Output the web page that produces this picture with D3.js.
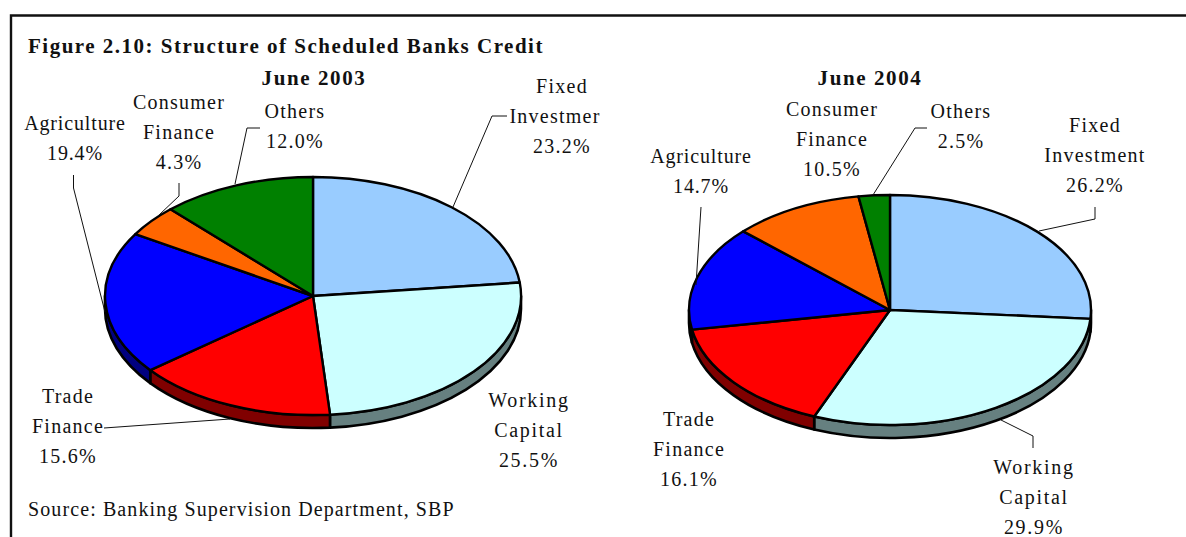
<!DOCTYPE html>
<html>
<head>
<meta charset="utf-8">
<script src="https://cdn.jsdelivr.net/npm/d3@7/dist/d3.min.js"></script>
<style>
html, body { margin: 0; padding: 0; background: #fff; }
svg { display: block; }
text { font-family: "Liberation Serif", serif; fill: #111; }
</style>
</head>
<body>
<svg id="chart" width="1186" height="537"></svg>
<script>
// Credit shares by sector, clockwise from twelve o'clock
const sectors = ["Fixed Investment", "Working Capital", "Trade Finance", "Agriculture", "Consumer Finance", "Others"];
const shares2003 = [23.2, 25.5, 15.6, 19.4, 4.3, 12.0];
const shares2004 = [26.2, 29.9, 16.1, 14.7, 10.5, 2.5];
const faceColors = ["#99ccff", "#ccffff", "#ff0000", "#0000ff", "#ff6600", "#008000"];
const rimColors = ["#4d6680", "#668080", "#800000", "#000080", "#803300", "#004000"];

const svg = d3.select("#chart");

// Frame: top and left edges only, running off the page
svg.append("path")
  .attr("d", "M1186,15.5H11V537")
  .attr("fill", "none").attr("stroke", "#111").attr("stroke-width", 2.4);

function multiline(x, y, lines, spacing = 1.25) {
  const t = svg.append("text").attr("font-size", 20).attr("text-anchor", "middle").attr("letter-spacing", spacing);
  lines.forEach((l, i) => t.append("tspan").attr("x", x).attr("y", y + i * 30).text(l));
}

function drawPie(values, g) {
  const { cx, cy, rx, ry, depth } = g;
  const slices = d3.pie().sort(null).value(d => d)(values);
  const px = a => cx + rx * Math.sin(a);
  const py = a => cy - ry * Math.cos(a);
  const root = svg.append("g");

  // Rim under the near half of the ellipse
  const lo = Math.PI / 2, hi = Math.PI * 1.5;
  slices.forEach((s, i) => {
    const a0 = Math.max(s.startAngle, lo), a1 = Math.min(s.endAngle, hi);
    if (a1 <= a0) return;
    const d = `M${px(a0)},${py(a0)}A${rx},${ry} 0 0 1 ${px(a1)},${py(a1)}` +
      `L${px(a1)},${py(a1) + depth}A${rx},${ry} 0 0 0 ${px(a0)},${py(a0) + depth}Z`;
    root.append("path").attr("d", d).attr("fill", rimColors[i])
      .attr("stroke", "#000").attr("stroke-width", 2.6).attr("stroke-linejoin", "round");
  });

  // Top face: a unit pie scaled into the ellipse
  const arc = d3.arc().innerRadius(0).outerRadius(1);
  root.append("g").attr("transform", `translate(${cx},${cy}) scale(${rx},${ry})`)
    .selectAll("path").data(slices).join("path")
    .attr("d", arc)
    .attr("fill", (d, i) => faceColors[i])
    .attr("stroke", "#000").attr("stroke-width", 2.4)
    .attr("stroke-linejoin", "round")
    .attr("vector-effect", "non-scaling-stroke");
}

function leader(points) {
  svg.append("path").attr("d", d3.line()(points))
    .attr("fill", "none").attr("stroke", "#111").attr("stroke-width", 1);
}

function bold(x, y, str, anchor, spacing) {
  svg.append("text").attr("x", x).attr("y", y).attr("font-size", 21).attr("font-weight", "bold")
    .attr("text-anchor", anchor).attr("letter-spacing", spacing).text(str);
}

bold(28, 53, "Figure 2.10: Structure of Scheduled Banks Credit", "start", 1.5);
bold(314, 85, "June 2003", "middle", 1.6);
bold(870, 85, "June 2004", "middle", 1.6);

drawPie(shares2003, { cx: 313, cy: 296, rx: 208, ry: 119, depth: 13 });
drawPie(shares2004, { cx: 890, cy: 310, rx: 201, ry: 115, depth: 13 });

// Leader lines, June 2003
leader([[507, 116], [492, 116], [453, 207]]);
leader([[260, 128], [247, 128], [235, 184]]);
leader([[179, 183], [179, 196], [159, 215]]);
leader([[73.5, 175], [73.5, 188], [105, 312]]);
leader([[104, 428], [230, 419]]);
// Leader lines, June 2004
leader([[1095, 207], [1095, 219], [1039, 231]]);
leader([[927, 128], [915, 128], [873, 195]]);
leader([[701, 207], [696, 285]]);
leader([[1033, 448], [1033, 436], [1001, 420]]);

// Category labels, June 2003
multiline(562, 93, ["Fixed"]);
multiline(555, 123, ["Investmer"]);
multiline(562, 153, ["23.2%"]);
multiline(295, 118, ["Others", "12.0%"]);
multiline(179, 109, ["Consumer", "Finance", "4.3%"]);
multiline(75, 130, ["Agriculture", "19.4%"], 0.85);
multiline(68, 403, ["Trade", "Finance", "15.6%"]);
multiline(529, 407, ["Working", "Capital", "25.5%"], 1.7);

// Category labels, June 2004
multiline(1095, 132, ["Fixed", "Investment", "26.2%"]);
multiline(961, 118, ["Others", "2.5%"]);
multiline(832, 116, ["Consumer", "Finance", "10.5%"]);
multiline(701, 163, ["Agriculture", "14.7%"], 0.85);
multiline(689, 426, ["Trade", "Finance", "16.1%"]);
multiline(1034, 474, ["Working", "Capital", "29.9%"], 1.7);

svg.append("text").attr("x", 28).attr("y", 516).attr("font-size", 20).attr("letter-spacing", 1.1)
  .text("Source: Banking Supervision Department, SBP");
</script>
</body>
</html>
